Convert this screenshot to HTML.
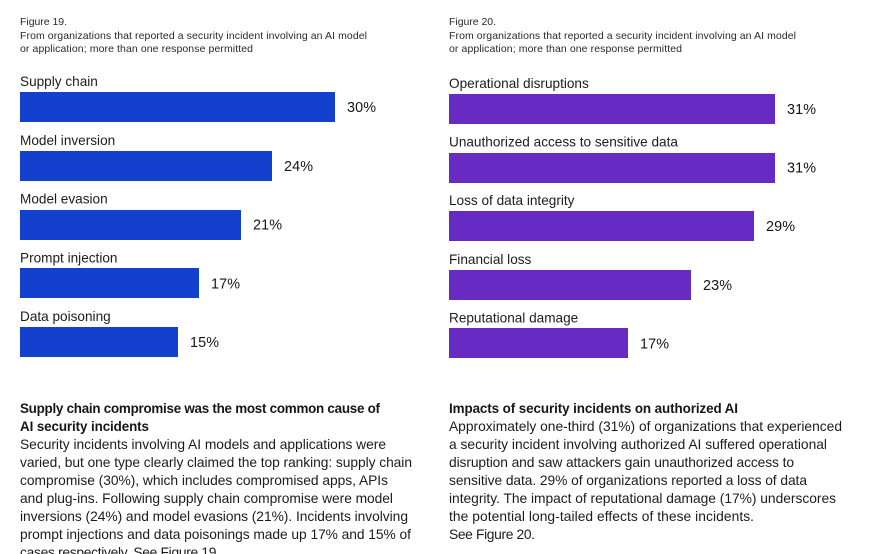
<!DOCTYPE html>
<html lang="en">
<head>
<meta charset="utf-8">
<title>AI security incidents</title>
<style>
html,body{margin:0;padding:0;background:#fff;width:890px;height:554px;overflow:hidden}
svg{display:block}
text{font-family:"Liberation Sans",sans-serif;fill:#161616}
.cap{font-size:10.5px;fill:#2a2a2a}
.body{font-size:13.8px;fill:#1c1c1c}
.head{font-size:13.4px;font-weight:bold;fill:#161616}
.lab{font-size:13.6px;fill:#1c1c1c}
.val{font-size:14.4px;letter-spacing:.1px}
</style>
</head>
<body>
<svg id="page" xmlns="http://www.w3.org/2000/svg" width="890" height="554" viewBox="0 0 890 554">
  <g>
    <text class="cap" x="20" y="25" textLength="47">Figure 19.</text>
    <text class="cap" x="20" y="39" textLength="347">From organizations that reported a security incident involving an AI model</text>
    <text class="cap" x="20" y="52" textLength="233">or application; more than one response permitted</text>
  </g>
  <g>
    <text class="cap" x="449" y="25" textLength="47">Figure 20.</text>
    <text class="cap" x="449" y="39" textLength="347">From organizations that reported a security incident involving an AI model</text>
    <text class="cap" x="449" y="52" textLength="233">or application; more than one response permitted</text>
  </g>
  <g id="chart19"></g>
  <g id="chart20"></g>
  <g>
    <text class="head" x="20" y="413" textLength="360">Supply chain compromise was the most common cause of</text>
    <text class="head" x="20" y="431" textLength="129">AI security incidents</text>
    <text class="body" x="20" y="449" textLength="366">Security incidents involving AI models and applications were</text>
    <text class="body" x="20" y="467" textLength="392">varied, but one type clearly claimed the top ranking: supply chain</text>
    <text class="body" x="20" y="485" textLength="368">compromise (30%), which includes compromised apps, APIs</text>
    <text class="body" x="20" y="503" textLength="373">and plug-ins. Following supply chain compromise were model</text>
    <text class="body" x="20" y="521" textLength="388">inversions (24%) and model evasions (21%). Incidents involving</text>
    <text class="body" x="20" y="539" textLength="391">prompt injections and data poisonings made up 17% and 15% of</text>
    <text class="body" x="20" y="557" textLength="200">cases respectively. See Figure 19.</text>
  </g>
  <g>
    <text class="head" x="449" y="413" textLength="289">Impacts of security incidents on authorized AI</text>
    <text class="body" x="449" y="431" textLength="393">Approximately one-third (31%) of organizations that experienced</text>
    <text class="body" x="449" y="449" textLength="378">a security incident involving authorized AI suffered operational</text>
    <text class="body" x="449" y="467" textLength="345">disruption and saw attackers gain unauthorized access to</text>
    <text class="body" x="449" y="485" textLength="358">sensitive data. 29% of organizations reported a loss of data</text>
    <text class="body" x="449" y="503" textLength="387">integrity. The impact of reputational damage (17%) underscores</text>
    <text class="body" x="449" y="521" textLength="305">the potential long-tailed effects of these incidents.</text>
    <text class="body" x="449" y="539" textLength="86">See Figure 20.</text>
  </g>
</svg>
<script>
const fig19Categories = ["Supply chain", "Model inversion", "Model evasion", "Prompt injection", "Data poisoning"];
const fig19Values = [30, 24, 21, 17, 15];
const fig20Categories = ["Operational disruptions", "Unauthorized access to sensitive data", "Loss of data integrity", "Financial loss", "Reputational damage"];
const fig20Values = [31, 31, 29, 23, 17];

const SVG_NS = "http://www.w3.org/2000/svg";

function drawChart(groupId, categories, values, color, originX, firstRow, rowStep, pxPerPercent) {
  const group = document.getElementById(groupId);
  const xScale = function (v) { return Math.round(v * pxPerPercent); };
  const yScale = function (i) { return firstRow + i * rowStep; };
  categories.forEach(function (category, i) {
    const rowTop = yScale(i);
    const barTop = Math.round(rowTop);
    const barWidth = xScale(values[i]);

    const label = document.createElementNS(SVG_NS, "text");
    label.setAttribute("class", "lab");
    label.setAttribute("x", originX);
    label.setAttribute("y", rowTop - 6);
    label.textContent = category;
    
    
    group.appendChild(label);

    const bar = document.createElementNS(SVG_NS, "rect");
    bar.setAttribute("x", originX);
    bar.setAttribute("y", barTop);
    bar.setAttribute("width", barWidth);
    bar.setAttribute("height", 30);
    bar.setAttribute("fill", color);
    
    
    group.appendChild(bar);

    const value = document.createElementNS(SVG_NS, "text");
    value.setAttribute("class", "val");
    value.setAttribute("x", originX + barWidth + 12);
    value.setAttribute("y", rowTop + 20);
    value.textContent = values[i] + "%";
    
    
    group.appendChild(value);
  });
}

drawChart("chart19", fig19Categories, fig19Values, "#1341cd", 20, 92.2, 58.7, 10.5);
drawChart("chart20", fig20Categories, fig20Values, "#672bc4", 449, 94, 58.6, 10.516);
</script>
</body>
</html>
